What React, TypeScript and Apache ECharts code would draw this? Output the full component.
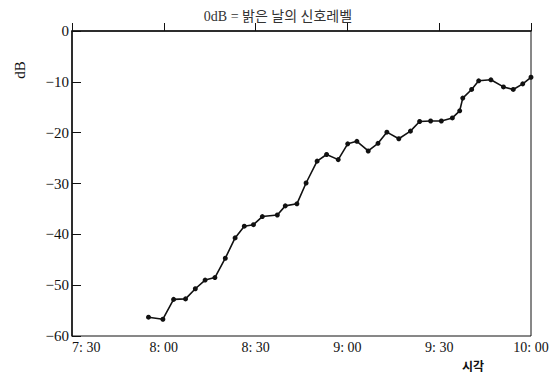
import React, { useEffect, useRef } from "react";
import * as echarts from "echarts";

// time in minutes since midnight
const times: number[] = [
  475.0, 479.7, 483.2, 487.1, 490.3, 493.5, 496.7, 500.1, 503.3, 506.3,
  509.3, 512.2, 517.1, 519.7, 523.5, 526.5, 530.1, 533.2, 537.0, 540.1,
  543.1, 546.8, 550.0, 552.9, 556.8, 560.6, 563.6, 567.2, 570.7, 574.3,
  576.7, 577.7, 580.6, 582.9, 586.9, 591.0, 594.2, 597.3, 600.0,
];
const levels: number[] = [
  -56.3, -56.7, -52.8, -52.7, -50.7, -49.0, -48.5, -44.7, -40.7, -38.4,
  -38.1, -36.5, -36.2, -34.4, -34.0, -29.9, -25.6, -24.3, -25.3, -22.2,
  -21.7, -23.6, -22.1, -19.9, -21.2, -19.7, -17.8, -17.7, -17.7, -17.1,
  -15.7, -13.2, -11.5, -9.8, -9.6, -11.0, -11.5, -10.4, -9.1,
];
const titleText = "0dB = 밝은 날의 신호레벨";
const yName = "dB";
const xName = "시각";

const SERIF = "'Liberation Serif', 'DejaVu Serif', serif";
const KR = "'Liberation Serif', 'Noto Sans CJK KR', serif";

export default function App() {
  const ref = useRef<HTMLDivElement>(null);
  useEffect(() => {
    if (!ref.current) return;
    const chart = echarts.init(ref.current, undefined, { renderer: "svg" });
    const fmtTime = (v: number) => {
      const h = Math.floor(v / 60);
      const m = v % 60;
      return `${h}: ${m < 10 ? "0" + m : m}`;
    };
    chart.setOption({
      animation: false,
      backgroundColor: "#ffffff",
      grid: {
        left: 72,
        right: 26,
        top: 31,
        bottom: 39,
        show: true,
        borderColor: "#111",
        borderWidth: 1,
        backgroundColor: "transparent",
      },
      xAxis: {
        type: "value",
        min: 450,
        max: 600,
        interval: 30,
        axisLine: { show: true, lineStyle: { color: "#111", width: 1.5 } },
        axisTick: { show: true, inside: true, length: 8, lineStyle: { color: "#111" } },
        splitLine: { show: false },
        axisLabel: {
          formatter: fmtTime,
          color: "#111",
          fontFamily: SERIF,
          fontSize: 14,
          margin: 4,
          alignMinLabel: "left",
        },
      },
      yAxis: {
        type: "value",
        min: -60,
        max: 0,
        interval: 10,
        axisLine: { show: true, lineStyle: { color: "#111", width: 1.5 } },
        axisTick: { show: true, inside: true, length: 9, lineStyle: { color: "#111" } },
        splitLine: { show: false },
        axisLabel: {
          formatter: (v: number) => (v === 0 ? "0" : "−" + Math.abs(v)),
          color: "#111",
          fontFamily: SERIF,
          fontSize: 15,
          margin: 3,
        },
      },
      graphic: [
        {
          type: "text",
          x: 278,
          y: 16,
          style: {
            text: titleText,
            fill: "#333",
            font: `14px ${KR}`,
            align: "center",
            verticalAlign: "middle",
          },
        },
        {
          type: "text",
          x: 20,
          y: 70,
          rotation: Math.PI / 2,
          style: {
            text: yName,
            fill: "#111",
            font: `15px ${SERIF}`,
            align: "center",
            verticalAlign: "middle",
          },
        },
        {
          type: "text",
          x: 473,
          y: 365,
          style: {
            text: xName,
            fill: "#111",
            font: `bold 12px 'Noto Sans CJK KR', sans-serif`,
            align: "center",
            verticalAlign: "middle",
          },
        },
      ],
      series: [
        {
          type: "line",
          data: times.map((t, i) => [t, levels[i]]),
          symbol: "circle",
          symbolSize: 5,
          lineStyle: { color: "#111", width: 1.6 },
          itemStyle: { color: "#111" },
        },
      ],
    });
    return () => chart.dispose();
  }, []);
  return <div ref={ref} style={{ width: 557, height: 375, position: "absolute", left: 0, top: 0 }} />;
}
